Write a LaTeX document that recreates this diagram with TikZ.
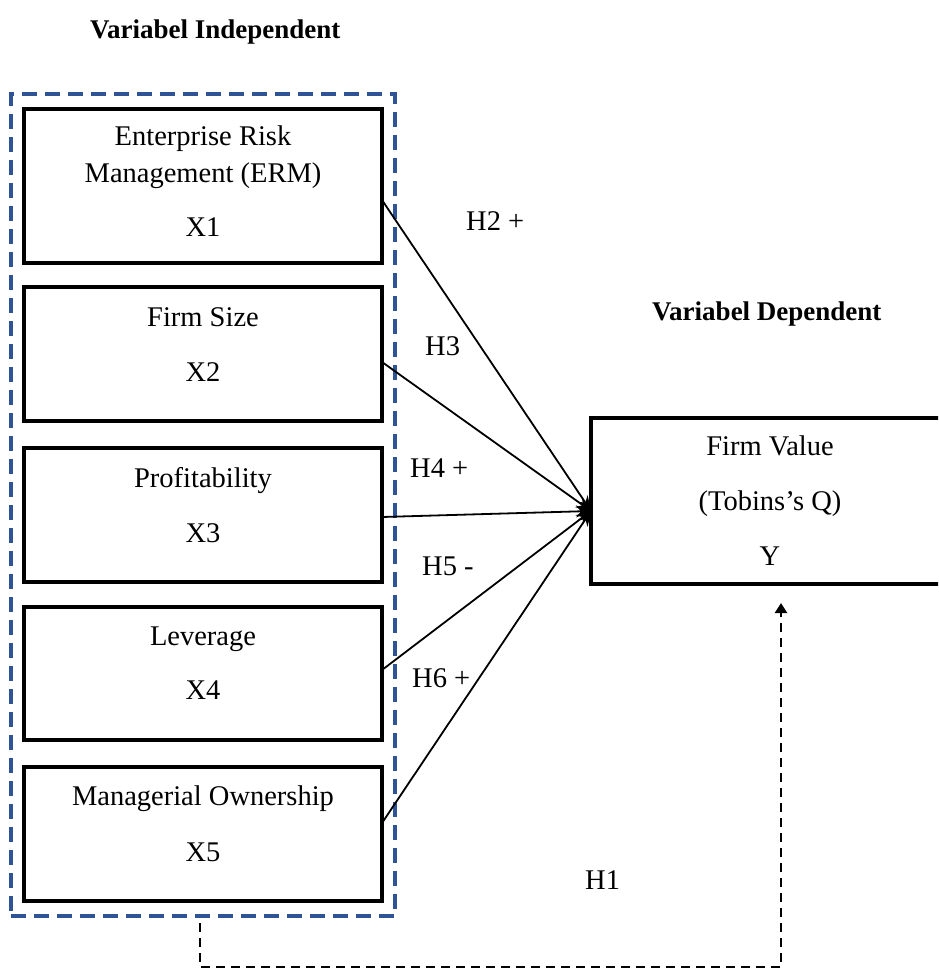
\documentclass[tikz,border=0pt]{standalone}
\usepackage{fontspec}
\setmainfont{Liberation Serif}
\usetikzlibrary{arrows.meta,calc}
\definecolor{grpblue}{RGB}{47,84,150}
\tikzset{
  varbox/.style={draw=black, line width=3.3pt, minimum width=358pt, inner sep=0pt, outer sep=0pt, anchor=center},
  grpbox/.style={draw=grpblue, line width=3.2pt, dash pattern=on 15pt off 8pt, minimum width=384pt, minimum height=822pt, inner sep=0pt, outer sep=0pt},
  link/.style={line width=1.8pt, -{Stealth[length=15pt,width=12pt]}},
  hlink/.style={line width=2.2pt, dash pattern=on 9pt off 6pt, -{Triangle[length=10pt,width=12pt]}},
  txt/.style={font=\fontsize{28.5}{34}\selectfont, inner sep=0pt, anchor=base},
  hlab/.style={font=\fontsize{28.5}{34}\selectfont, inner sep=0pt, anchor=base west},
  ttl/.style={font=\fontsize{27}{32}\selectfont\bfseries, inner sep=0pt, anchor=base west}
}
\begin{document}
\begin{tikzpicture}[x=1pt,y=1pt]
\useasboundingbox (0,0) rectangle (938,-969);
\clip (0,0) rectangle (938,-969);

% titles
\node[ttl] (tind) at (90,-38) {Variabel Independent};
\node[ttl] (tdep) at (652,-320) {Variabel Dependent};

% group box
\node[grpbox] (grp) at (203,-505) {};

% independent variable boxes
\node[varbox, minimum height=154pt] (b1) at (203,-186) {};
\node[varbox, minimum height=134pt] (b2) at (203,-354) {};
\node[varbox, minimum height=134pt] (b3) at (203,-515) {};
\node[varbox, minimum height=133pt] (b4) at (203,-673.5) {};
\node[varbox, minimum height=134pt] (b5) at (203,-834) {};

% dependent box
\node[varbox, minimum height=166pt] (fv) at (770,-501) {};

% texts
\node[txt] (b1a) at (203,-145) {Enterprise Risk};
\node[txt] (b1b) at (203,-182) {Management (ERM)};
\node[txt] (b1c) at (203,-236) {X1};
\node[txt] (b2a) at (203,-326) {Firm Size};
\node[txt] (b2b) at (203,-381) {X2};
\node[txt] (b3a) at (203,-487) {Profitability};
\node[txt] (b3b) at (203,-542) {X3};
\node[txt] (b4a) at (203,-645) {Leverage};
\node[txt] (b4b) at (203,-699) {X4};
\node[txt] (b5a) at (203,-805) {Managerial Ownership};
\node[txt] (b5b) at (203,-861) {X5};
\node[txt] (fva) at (770,-455) {Firm Value};
\node[txt] (fvb) at (770,-510) {(Tobins’s Q)};
\node[txt] (fvc) at (770,-565) {Y};

% hypothesis labels
\node[hlab] (h2) at (466,-230) {H2 +};
\node[hlab] (h3) at (425,-355) {H3};
\node[hlab] (h4) at (410,-477) {H4 +};
\node[hlab] (h5) at (422,-575) {H5 -};
\node[hlab] (h6) at (412,-687) {H6 +};
\node[hlab] (h1) at (585,-889) {H1};

% connectors
\coordinate (hub) at (591,-511);
\draw[link] ([yshift=-14pt]b1.east) -- (hub);
\draw[link] ([yshift=-8pt]b2.east) -- (hub);
\draw[link] ([yshift=-2pt]b3.east) -- (hub);
\draw[link] ([yshift=3.5pt]b4.east) -- (hub);
\draw[link] ([yshift=11pt]b5.east) -- (hub);

\draw[hlink] ([xshift=-3pt,yshift=-7pt]grp.south) -- ++(0,-44) -| ([xshift=11pt,yshift=-19pt]fv.south);
\end{tikzpicture}
\end{document}
